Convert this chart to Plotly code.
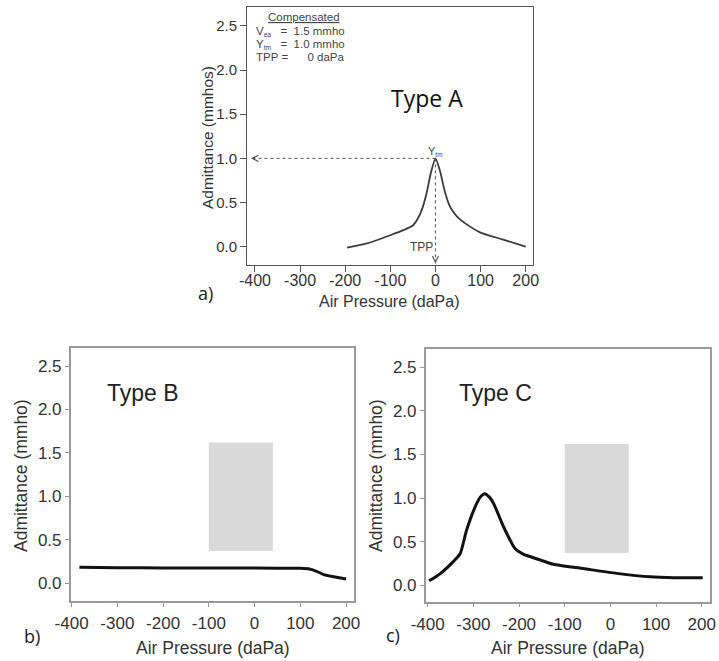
import plotly.graph_objects as go

# ---------------- data ----------------
x_ticks = [-400, -300, -200, -100, 0, 100, 200]
x_tick_labels = ["-400", "-300", "-200", "-100", "0", "100", "200"]
y_ticks = [0.0, 0.5, 1.0, 1.5, 2.0, 2.5]
y_tick_labels = ["0.0", "0.5", "1.0", "1.5", "2.0", "2.5"]

# Type A (normal tympanogram)
pressure_a = [-196, -150, -100, -70, -50, -40, -30, -20, -10, 0, 10, 20, 30, 40, 50, 70, 100, 150, 200]
admit_a = [-0.01, 0.04, 0.13, 0.19, 0.24, 0.31, 0.42, 0.60, 0.84, 1.0, 0.86, 0.64, 0.48, 0.39, 0.33, 0.25, 0.16, 0.08, 0.0]
vea_a = 1.5
ytm_a = 1.0
tpp_a = 0

# Type B (flat)
pressure_b = [-383, -300, -200, -100, 0, 100, 120, 137, 151, 173, 200]
admit_b = [0.185, 0.18, 0.175, 0.175, 0.175, 0.172, 0.165, 0.135, 0.10, 0.076, 0.05]

# Type C (negative pressure peak)
pressure_c = [-397, -373, -344, -329, -315, -296, -285, -275, -265, -256, -234, -209, -191, -154, -125, -59, 14, 87, 138, 202]
admit_c = [0.05, 0.13, 0.27, 0.36, 0.63, 0.90, 1.01, 1.05, 1.01, 0.94, 0.67, 0.42, 0.355, 0.29, 0.24, 0.19, 0.135, 0.095, 0.085, 0.085]

# grey masking boxes on panels b and c
box_x = [-100, 40]
box_y = [0.37, 1.62]

W, H = 719, 661
FONT = "Liberation Sans, Arial, sans-serif"
NB = "\u00a0"


def px(x):
    return x / W


def py(y):
    return 1 - y / H


fig = go.Figure()

fig.add_trace(go.Scatter(x=pressure_a, y=admit_a, mode="lines",
                         line=dict(color="#3c3c3c", width=1.8, shape="spline", smoothing=0.6),
                         xaxis="x", yaxis="y", hoverinfo="skip"))
fig.add_trace(go.Scatter(x=pressure_b, y=admit_b, mode="lines",
                         line=dict(color="#111111", width=3, shape="spline", smoothing=0.4),
                         xaxis="x2", yaxis="y2", hoverinfo="skip"))
fig.add_trace(go.Scatter(x=pressure_c, y=admit_c, mode="lines",
                         line=dict(color="#111111", width=3, shape="spline", smoothing=0.6),
                         xaxis="x3", yaxis="y3", hoverinfo="skip"))

# dotted guide lines on panel a
fig.add_trace(go.Scatter(x=[tpp_a, -409], y=[ytm_a, ytm_a], mode="lines",
                         line=dict(color="#555555", width=1, dash="dot"),
                         xaxis="x", yaxis="y", hoverinfo="skip"))
fig.add_trace(go.Scatter(x=[tpp_a, tpp_a], y=[ytm_a, -0.19], mode="lines",
                         line=dict(color="#555555", width=1, dash="dot"),
                         xaxis="x", yaxis="y", hoverinfo="skip"))


def xaxis(domain, rng, lc, lw, tl, fs, standoff):
    return dict(domain=domain, range=rng, tickvals=x_ticks, ticktext=x_tick_labels,
                showline=True, mirror=True, automargin=False,
                linecolor=lc, linewidth=lw, ticks="outside", ticklen=tl, tickcolor=lc,
                tickwidth=1, showgrid=False, zeroline=False, ticklabelstandoff=standoff,
                tickfont=dict(family=FONT, size=fs, color="#333333"))


def yaxis(domain, rng, lc, lw, tl, fs, anchor):
    return dict(domain=domain, range=rng, tickvals=y_ticks, ticktext=y_tick_labels,
                showline=True, automargin=False,
                mirror=True, linecolor=lc, linewidth=lw, ticks="outside", ticklen=tl,
                tickcolor=lc, tickwidth=1, showgrid=False, zeroline=False, anchor=anchor,
                tickfont=dict(family=FONT, size=fs, color="#333333"))


layout = dict(
    width=W, height=H, margin=dict(l=0, r=0, t=0, b=0, pad=0, autoexpand=False),
    paper_bgcolor="white", plot_bgcolor="white", showlegend=False,
    xaxis=xaxis([px(247.3), px(532.7)], [-417, 215.5], "#555555", 1.3, 6, 16, -5),
    yaxis=yaxis([py(265), py(7.3)], [-0.207, 2.71], "#555555", 1.3, 6, 15, "x"),
    xaxis2=xaxis([px(70.7), px(354.3)], [-402, 218], "#999999", 1.5, 4, 17, 2),
    yaxis2=yaxis([py(601), py(348.3)], [-0.204, 2.704], "#999999", 1.5, 4, 17, "x2"),
    xaxis3=xaxis([px(425.7), px(710)], [-404.4, 218], "#999999", 1.5, 4, 17, 2),
    yaxis3=yaxis([py(601.7), py(349)], [-0.19, 2.71], "#999999", 1.5, 4, 17, "x3"),
)
layout["xaxis"]["anchor"] = "y"
layout["xaxis2"]["anchor"] = "y2"
layout["xaxis3"]["anchor"] = "y3"
fig.update_layout(**layout)

# grey boxes
for xr, yr in (("x2", "y2"), ("x3", "y3")):
    fig.add_shape(type="rect", xref=xr, yref=yr, x0=box_x[0], x1=box_x[1], y0=box_y[0], y1=box_y[1],
                  fillcolor="#d9d9d9", line=dict(width=0), layer="below")

ann = []


def text(x, y, s, size, color="#333333", family=FONT, xanchor="center", angle=0, xref="paper", yref="paper"):
    ann.append(dict(x=x, y=y, xref=xref, yref=yref, text=s, showarrow=False, textangle=angle,
                    font=dict(family=family, size=size, color=color), xanchor=xanchor, yanchor="middle",
                    borderpad=0))


# axis titles
text(px(390), py(301), "Air Pressure (daPa)", 16)
text(px(207), py(137), "Admittance (mmhos)", 15.5, angle=-90)
text(px(212.5), py(648), "Air Pressure (daPa)", 17.5)
text(px(21), py(476), "Admittance (mmho)", 17.5, angle=-90)
text(px(568), py(648), "Air Pressure (daPa)", 17.5)
text(px(376), py(476), "Admittance (mmho)", 17.5, angle=-90)

# panel letters and type labels
text(px(205), py(293), "a)", 18, color="#222222", family="Open Sans")
text(px(32), py(636), "b)", 18, color="#222222", family="Open Sans")
text(px(393), py(635), "c)", 18, color="#222222", family="Open Sans")
text(px(427), py(98), "Type A", 23, color="#111111", family="Open Sans")
text(px(106), py(393), "Type B", 23, color="#222222", xanchor="left")
text(px(458), py(393), "Type C", 23, color="#222222", xanchor="left")

# compensated values box on panel a
SUB = "<sub><span style='font-size:6.5px;color:#444444'>%s</span></sub>"
text(px(267), py(16.5), "<u>Compensated</u>", 11.5, color="#444444", xanchor="left")
text(px(255), py(31.5), "V" + SUB % "ea" + NB * 3 + "=" + NB * 2 + "%.1f mmho" % vea_a,
     11.5, color="#444444", xanchor="left")
text(px(255), py(44.5), "Y" + SUB % "tm" + NB * 3 + "=" + NB * 2 + "%.1f mmho" % ytm_a,
     11.5, color="#444444", xanchor="left")
text(px(255), py(57.5), "TPP" + NB + "=" + NB * 6 + "%d daPa" % tpp_a,
     11.5, color="#444444", xanchor="left")

# labels at the peak
text(tpp_a, ytm_a + 0.08, "Y" + SUB % "tm", 11, color="#444444", xref="x", yref="y")
text(tpp_a - 30, 0.0, "TPP", 12, color="#444444", xref="x", yref="y")

# arrow heads for the dotted guides
ann.append(dict(x=-409, y=ytm_a, ax=-398, ay=ytm_a, xref="x", yref="y", axref="x", ayref="y",
                showarrow=True, arrowhead=5, arrowsize=1.2, arrowwidth=1, arrowcolor="#555555", text=""))
ann.append(dict(x=tpp_a, y=-0.19, ax=tpp_a, ay=-0.13, xref="x", yref="y", axref="x", ayref="y",
                showarrow=True, arrowhead=5, arrowsize=1.2, arrowwidth=1, arrowcolor="#555555", text=""))

fig.update_layout(annotations=ann)
fig.write_html("out.html", config={"displayModeBar": False},
               post_script="document.body.style.margin='0';document.body.style.overflow='hidden';")
